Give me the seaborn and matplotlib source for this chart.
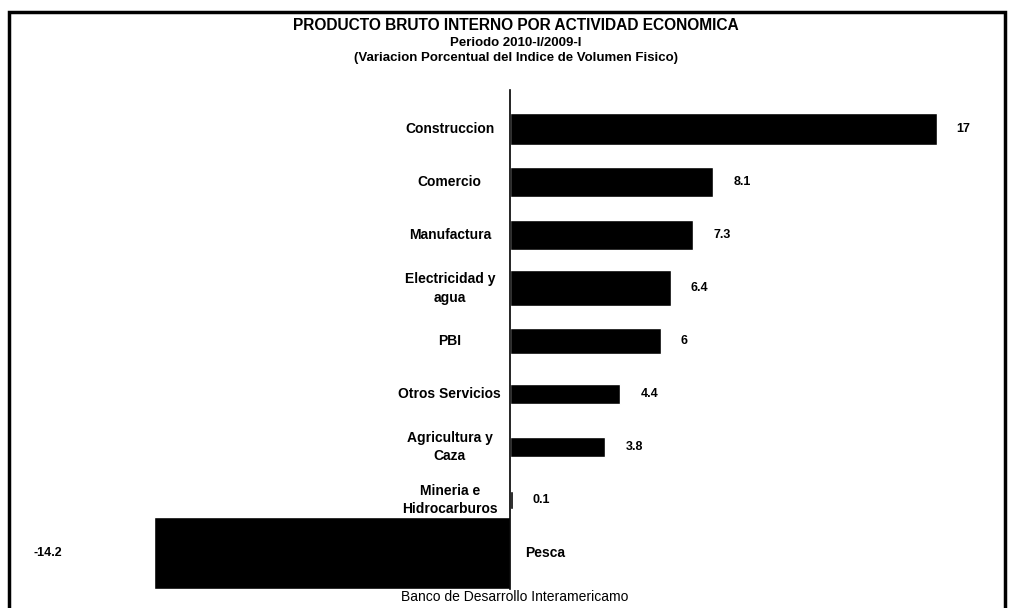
import numpy as np
import pandas as pd
import seaborn as sns
import matplotlib.pyplot as plt
from matplotlib.patches import Rectangle

# Data
sectores = ['Construccion', 'Comercio', 'Manufactura', 'Electricidad y\nagua', 'PBI',
            'Otros Servicios', 'Agricultura y\nCaza', 'Mineria e\nHidrocarburos', 'Pesca']
variacion = [17, 8.1, 7.3, 6.4, 6, 4.4, 3.8, 0.1, -14.2]
etiquetas = ['17', '8.1', '7.3', '6.4', '6', '4.4', '3.8', '0.1', '-14.2']

df = pd.DataFrame({'sector': sectores, 'var': variacion})

sns.set_style('white')
plt.rcParams['font.family'] = ['Liberation Sans', 'DejaVu Sans']
plt.rcParams['text.color'] = 'black'

fig = plt.figure(figsize=(10.1, 6.08), dpi=100)
ax = fig.add_axes([0.02, 0.013, 0.96, 0.839])

sns.barplot(data=df, x='var', y='sector', orient='h', color='black',
            saturation=1, width=0.6, ax=ax)

# the scanned bars have uneven thickness
alturas = [0.6, 0.57, 0.57, 0.68, 0.5, 0.38, 0.36, 0.34, 1.35]
for p, h in zip(ax.patches, alturas):
    c = p.get_y() + p.get_height() / 2
    p.set_height(h)
    p.set_y(c - h / 2)

ax.set_xlim(-19.52, 19.12)
ax.set_ylim(8.89, -0.74)

ax.set_xticks([])
ax.set_yticks([])
ax.set_xlabel('')
ax.set_ylabel('')
for s in ['top', 'right', 'bottom']:
    ax.spines[s].set_visible(False)
ax.spines['left'].set_position(('data', 0))
ax.spines['left'].set_color('black')
ax.spines['left'].set_linewidth(1.2)
ax.spines['left'].set_bounds(8.68, -0.74)

for i, (nombre, v, lab) in enumerate(zip(sectores, variacion, etiquetas)):
    if v >= 0:
        ax.text(-2.4, i, nombre, ha='center', va='center', fontsize=10,
                fontweight='bold', linespacing=1.45)
        ax.text(v + 0.8, i, lab, ha='left', va='center', fontsize=9, fontweight='bold')
    else:
        ax.text(0.6, i, nombre, ha='left', va='center', fontsize=10, fontweight='bold')
        ax.text(-19.0, i, lab, ha='left', va='center', fontsize=9, fontweight='bold')

fig.text(0.511, 0.958, 'PRODUCTO BRUTO INTERNO POR ACTIVIDAD ECONOMICA', ha='center',
         va='center', fontsize=11.2, fontweight='bold')
fig.text(0.511, 0.930, 'Periodo 2010-I/2009-I', ha='center', va='center',
         fontsize=9.5, fontweight='bold')
fig.text(0.511, 0.905, '(Variacion Porcentual del Indice de Volumen Fisico)', ha='center',
         va='center', fontsize=9.5, fontweight='bold')

fig.text(0.51, 0.018, 'Banco de Desarrollo Interamericamo', ha='center', va='center',
         fontsize=10)

fig.patches.append(Rectangle((0.009, -0.01), 0.986, 0.99, transform=fig.transFigure,
                             fill=False, edgecolor='black', linewidth=2.5))

fig.savefig('out.png', dpi=100)
